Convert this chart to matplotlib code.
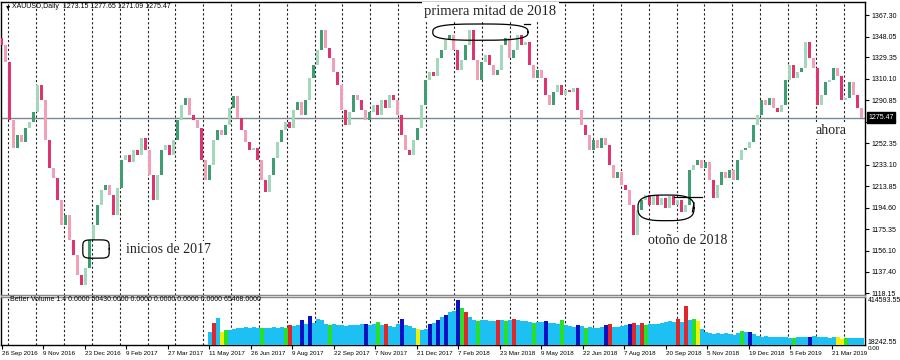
import numpy as np
import matplotlib
matplotlib.use('Agg')
import matplotlib.pyplot as plt

plt.rcParams['font.family'] = ['Liberation Sans', 'DejaVu Sans']

# closes sampled every ~3 trading days, XAUUSD daily
first_open = 1347.0
closes = [
    1340.4, 1325.1, 1273.2, 1248.1, 1259.7, 1253.5, 1266.0, 1271.4, 1280.3, 1304.5,
    1291.1, 1255.3, 1230.2, 1221.2, 1201.5, 1179.1, 1188.1, 1165.7, 1152.2, 1134.3,
    1125.3, 1140.6, 1165.7, 1179.1, 1197.0, 1210.5, 1214.9, 1206.0, 1188.1, 1212.3,
    1237.3, 1241.8, 1235.5, 1246.3, 1241.8, 1257.1, 1246.3, 1223.9, 1201.5, 1223.9,
    1246.3, 1250.8, 1241.8, 1255.3, 1273.2, 1286.6, 1292.9, 1277.7, 1273.2, 1266.0,
    1237.3, 1219.4, 1232.9, 1255.3, 1264.2, 1259.7, 1268.7, 1283.9, 1294.7, 1275.0,
    1264.2, 1253.5, 1246.3, 1248.1, 1237.3, 1219.4, 1208.7, 1223.9, 1239.1, 1253.5,
    1264.2, 1271.4, 1266.0, 1282.1, 1289.3, 1277.7, 1291.1, 1310.8, 1322.5, 1335.9,
    1353.8, 1337.7, 1328.7, 1316.2, 1304.5, 1282.1, 1268.7, 1280.3, 1295.6, 1291.1,
    1282.1, 1273.2, 1280.3, 1286.6, 1277.7, 1291.1, 1283.9, 1295.6, 1291.1, 1277.7,
    1259.7, 1246.3, 1241.8, 1255.3, 1266.0, 1286.6, 1309.0, 1316.2, 1312.6, 1328.7,
    1335.9, 1344.9, 1349.3, 1335.9, 1318.0, 1326.9, 1340.4, 1353.8, 1326.9, 1309.0,
    1325.1, 1331.4, 1322.5, 1313.5, 1318.0, 1340.4, 1346.7, 1328.7, 1335.9, 1349.3,
    1340.4, 1343.1, 1322.5, 1310.8, 1318.0, 1310.8, 1295.6, 1286.6, 1298.3, 1304.5,
    1295.6, 1300.1, 1298.3, 1301.9, 1282.1, 1268.7, 1259.7, 1246.3, 1255.3, 1248.1,
    1257.1, 1250.8, 1232.9, 1221.2, 1226.6, 1214.9, 1210.5, 1197.0, 1170.1, 1192.5,
    1201.5, 1206.0, 1197.0, 1206.0, 1197.0, 1203.3, 1194.3, 1205.1, 1197.0, 1201.5,
    1190.7, 1197.0, 1228.4, 1232.9, 1237.3, 1230.2, 1235.5, 1219.4, 1203.3, 1214.9,
    1226.6, 1221.2, 1228.4, 1219.4, 1237.3, 1246.3, 1248.1, 1253.5, 1268.7, 1277.7,
    1291.1, 1286.6, 1292.9, 1283.9, 1280.3, 1286.6, 1309.0, 1322.5, 1310.8, 1316.2,
    1319.8, 1343.1, 1328.7, 1319.8, 1286.6, 1295.6, 1307.2, 1309.0, 1319.8, 1312.6,
    1291.1, 1292.9, 1307.2, 1295.6, 1283.9, 1275.47,
]

# Better Volume (thousands), starts May 2017
volume = [
    110, 195, 235, 115, 125, 130, 140, 150, 145, 155, 150, 160, 150, 145, 150, 145,
    155, 150, 160, 150, 170, 165, 175, 215, 185, 250, 190, 225, 215, 180, 175, 180,
    175, 170, 165, 175, 170, 175, 180, 185, 175, 180, 200, 175, 185, 165, 160, 180,
    225, 175, 165, 150, 135, 130, 135, 185, 190, 215, 240, 265, 290, 300, 390, 320,
    290, 240, 220, 210, 220, 215, 205, 210, 220, 220, 210, 215, 225, 215, 210, 205,
    200, 195, 200, 200, 205, 195, 190, 185, 215, 170, 165, 160, 175, 165, 150, 155,
    150, 150, 155, 175, 185, 155, 160, 165, 170, 185, 195, 175, 190, 175, 180, 185,
    180, 190, 200, 210, 200, 225, 200, 340, 215, 230, 210, 140, 115, 100, 95, 105,
    95, 100, 90, 85, 100, 120, 115, 110, 95, 75, 70, 72, 68, 65, 68, 70,
    65, 60, 62, 65, 70, 68, 65, 75, 68, 70, 65, 60, 68, 65, 50, 55,
    60, 58, 62, 55,
]
vol_colors = list(
    "brbygbbbbbbbbgbbbbbgrbbdbdbbbbgbbbbbbbbdbbgbrbbbdbbbybbdbdbdbbdgrbbgbbbbrbgbrbbbbgbbdbbbgbbbdbgbbbbdrbbbbdrbrgbbbbbbbrbrbgybbbbbbbbbbgbdbbbbbbbbbbgbbbdbbbbbbyygbbb"
)

dates = ["26 Sep 2016", "9 Nov 2016", "23 Dec 2016", "9 Feb 2017", "27 Mar 2017",
         "11 May 2017", "26 Jun 2017", "9 Aug 2017", "22 Sep 2017", "7 Nov 2017",
         "21 Dec 2017", "7 Feb 2018", "23 Mar 2018", "9 May 2018", "22 Jun 2018",
         "7 Aug 2018", "20 Sep 2018", "5 Nov 2018", "19 Dec 2018", "5 Feb 2019",
         "21 Mar 2019"]
price_ticks = [1367.30, 1348.05, 1329.35, 1310.10, 1290.85, 1271.60, 1252.35,
               1233.10, 1213.85, 1194.60, 1175.35, 1156.10, 1137.40, 1118.15]
last_price = 1275.47

closes = np.array(closes)
opens = np.concatenate([[first_open], closes[:-1]])
n = len(closes)
idx = np.arange(n)
up = closes >= opens

bull = np.where(idx % 2 == 0, '#3f9d72', '#a3d9bb')
bear = np.where(idx % 2 == 0, '#e2346c', '#f2a0b5')
ccol = np.where(up, bull, bear)

W, H = 900, 360
fig = plt.figure(figsize=(W / 100, H / 100), dpi=100)
ax = fig.add_axes([1 / W, 1 - 295 / H, 864 / W, 293 / H])
axv = fig.add_axes([1 / W, 1 - 345 / H, 864 / W, 48 / H])

xlo, xhi = -0.25, n - 0.25
grid_x = np.arange(1.6, n, 6.96)

# main pane
body = np.maximum(np.abs(closes - opens), 0.5)
ax.bar(idx, body, bottom=np.minimum(opens, closes), width=0.75, color=ccol,
       linewidth=0, zorder=3)
ax.axhline(last_price, color='#7b8a92', lw=1, zorder=2)
for gx in grid_x:
    ax.axvline(gx, color='#222222', lw=0.8, ls=(0, (2, 2)), zorder=1)
ax.set_xlim(xlo, xhi)
ax.set_ylim(1116.4, 1379.0)
ax.set_xticks([])
ax.yaxis.tick_right()
ax.set_yticks(price_ticks)
ax.set_yticklabels([f'{p:.2f}' for p in price_ticks])
ax.tick_params(axis='y', length=3, width=0.8, labelsize=5, pad=2)
for s in ax.spines.values():
    s.set_color('black')
    s.set_linewidth(1)
ax.spines['bottom'].set_color('#888888')
ax.text(1.004, last_price, f'{last_price:.2f}', transform=ax.get_yaxis_transform(),
        fontsize=5, color='white', va='center', ha='left', zorder=10,
        bbox=dict(facecolor='black', edgecolor='black', pad=1.2))

fig.text(6 / W, 1 - 7 / H, '\u25be', fontsize=6, va='center', family=['DejaVu Sans'])
fig.text(12 / W, 1 - 7 / H, 'XAUUSD,Daily  1273.15 1277.65 1271.09 1275.47',
         fontsize=5, va='center')

# annotations
serif = ['Liberation Serif', 'DejaVu Serif']
box = dict(facecolor='white', edgecolor='none', pad=1.5)
ax.text(0.49, 1 - 9 / 293, 'primera mitad de 2018', transform=ax.transAxes,
        fontsize=10.5, family=serif, color='#222222', va='center', ha='left',
        bbox=box, zorder=5)
ax.text(31, 1157, 'inicios de 2017', fontsize=10, family=serif, color='#222222',
        va='center', ha='left', bbox=box, zorder=5)
ax.text(161.5, 1165, 'otoño de 2018', fontsize=10, family=serif, color='#222222',
        va='center', ha='left', bbox=box, zorder=5)
ax.text(203.5, 1264, 'ahora', fontsize=10, family=serif, color='#222222',
        va='center', ha='left', bbox=box, zorder=5)


def blob(cx, cy, rx, ry, p=4, **kw):
    t = np.linspace(0, 2 * np.pi, 200)
    c, s = np.cos(t), np.sin(t)
    xs = cx + rx * np.sign(c) * np.abs(c) ** (2 / p)
    ys = cy + ry * np.sign(s) * np.abs(s) ** (2 / p)
    ax.plot(xs, ys, color='black', lw=0.9, zorder=6, **kw)


blob(23.5, 1157.6, 3.3, 8.2, p=5)
blob(119.6, 1352.0, 11.9, 7.3, p=3)
ax.plot([130.5, 132.0], [1359.5, 1359.5], color='black', lw=0.9, zorder=6)
blob(166.0, 1194.5, 7.0, 11.5, p=3)
ax.plot([168, 175], [1204.5, 1204.5], color='black', lw=0.9, zorder=6)
ax.plot([173, 172.6], [1199, 1191], color='black', lw=0.9, zorder=6)

# volume pane
start = n - len(volume)
vmap = {'b': '#1cc0f2', 'r': '#e0262a', 'g': '#27e027', 'y': '#f2f000', 'd': '#0b12c4'}
vc = [vmap[c] for c in vol_colors[:len(volume)]]
vc += ['#1cc0f2'] * (len(volume) - len(vc))
axv.bar(np.arange(start, n), np.array(volume) * 1000, width=1.0, color=vc,
        linewidth=0, zorder=3)
for gx in grid_x:
    axv.axvline(gx, color='#222222', lw=0.8, ls=(0, (2, 2)), zorder=1)
axv.set_xlim(xlo, xhi)
axv.set_ylim(-3000, 420000)
axv.set_yticks([])
axv.set_xticks(np.arange(len(dates)) * 10.375)
axv.set_xticklabels(dates, ha='left')
axv.tick_params(axis='x', length=3, width=0.8, labelsize=4.5, pad=1)
for s in axv.spines.values():
    s.set_color('black')
    s.set_linewidth(1)
axv.spines['top'].set_color('#888888')
axv.text(2, 395000, 'Better Volume 1.4 0.0000 50430.0000 0.0000 0.0000 0.0000 0.0000 65468.0000',
         fontsize=5, va='center', ha='left', zorder=5)
axv.text(1.003, 1 - 4 / 48, '414593.55', transform=axv.transAxes, fontsize=5,
         va='center', ha='left')
axv.text(1.003, 0.06, '18242.55', transform=axv.transAxes, fontsize=5,
         va='center', ha='left')
axv.text(1.003, -0.08, '0.00', transform=axv.transAxes, fontsize=4.5,
         va='center', ha='left')

fig.savefig('out.png', dpi=100, facecolor='white')
